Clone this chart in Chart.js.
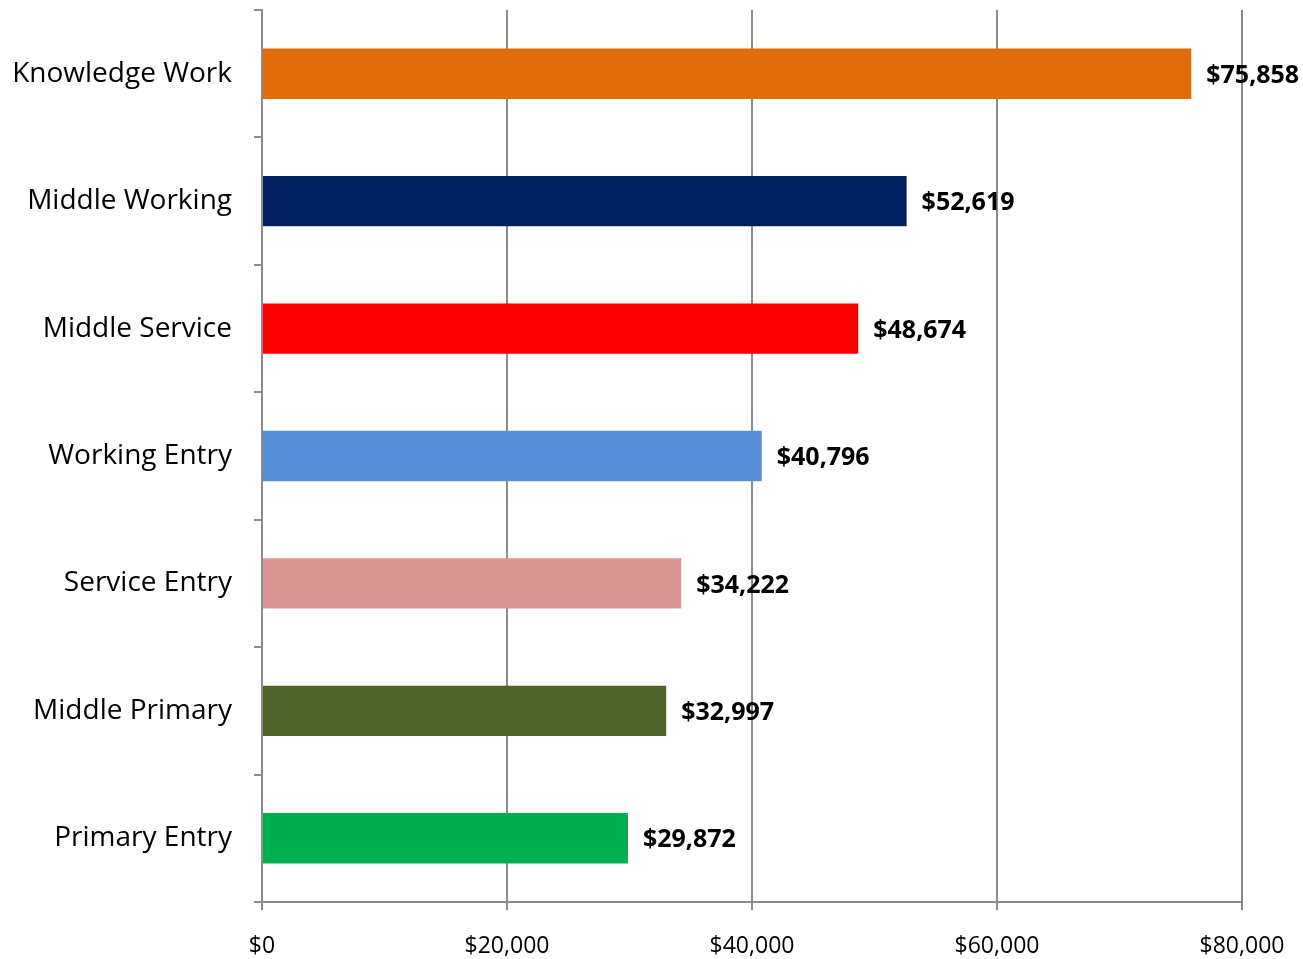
<!DOCTYPE html>
<html>
<head>
<meta charset="utf-8">
<script src="https://cdn.jsdelivr.net/npm/chart.js@4"></script>
<style>
html,body{margin:0;padding:0;background:#fff;}
#wrap{width:1303px;height:959px;position:relative;}
</style>
</head>
<body>
<div id="wrap"><canvas id="c" width="1303" height="959"></canvas></div>
<script>
const categories = ["Knowledge Work","Middle Working","Middle Service","Working Entry","Service Entry","Middle Primary","Primary Entry"];
const values = [75858, 52619, 48674, 40796, 34222, 32997, 29872];
const barColors = ["#E36C0A","#002060","#FF0000","#558ED5","#D99694","#4F6228","#00B050"];
const xTicks = [0, 20000, 40000, 60000, 80000];

const fmt = v => "$" + v.toLocaleString("en-US");

const valueLabels = {
  id: "valueLabels",
  afterDatasetsDraw(chart) {
    const ctx = chart.ctx;
    const meta = chart.getDatasetMeta(0);
    ctx.save();
    ctx.font = "bold 25px 'Open Sans'";
    ctx.fillStyle = "#000";
    ctx.textAlign = "left";
    ctx.textBaseline = "middle";
    meta.data.forEach((bar, i) => {
      ctx.fillText(fmt(values[i]), bar.x + 15, bar.y + 2);
    });
    ctx.restore();
  }
};

new Chart(document.getElementById("c"), {
  type: "bar",
  data: {
    labels: categories,
    datasets: [{
      data: values,
      backgroundColor: barColors,
      borderWidth: 0,
      categoryPercentage: 1,
      barPercentage: 0.395
    }]
  },
  options: {
    indexAxis: "y",
    responsive: false,
    animation: false,
    layout: { padding: { top: 10, right: 61, left: 0, bottom: 0 } },
    plugins: { legend: { display: false }, tooltip: { enabled: false } },
    scales: {
      x: {
        min: 0, max: 80000,
        afterBuildTicks(scale) { scale.ticks = xTicks.map(v => ({ value: v })); },
        afterFit(scale) { scale.height = 57; scale.paddingLeft = 0; scale.paddingRight = 0; },
        grid: { color: "#8c8c8c", lineWidth: 2, tickLength: 8, drawTicks: true },
        border: { display: true, color: "#8c8c8c", width: 2 },
        ticks: {
          color: "#000",
          font: { family: "'Open Sans'", size: 23 },
          padding: 23,
          maxRotation: 0,
          callback: v => fmt(v)
        }
      },
      y: {
        afterFit(scale) { scale.width = 262; scale.paddingTop = 0; scale.paddingBottom = 0; },
        grid: { drawOnChartArea: false, drawTicks: true, tickLength: 8, color: "#8c8c8c", lineWidth: 2, offset: true },
        border: { display: true, color: "#8c8c8c", width: 2 },
        ticks: {
          color: "#000",
          font: { family: "'Open Sans'", size: 28 },
          padding: 22
        }
      }
    }
  },
  plugins: [valueLabels]
});
</script>
</body>
</html>
